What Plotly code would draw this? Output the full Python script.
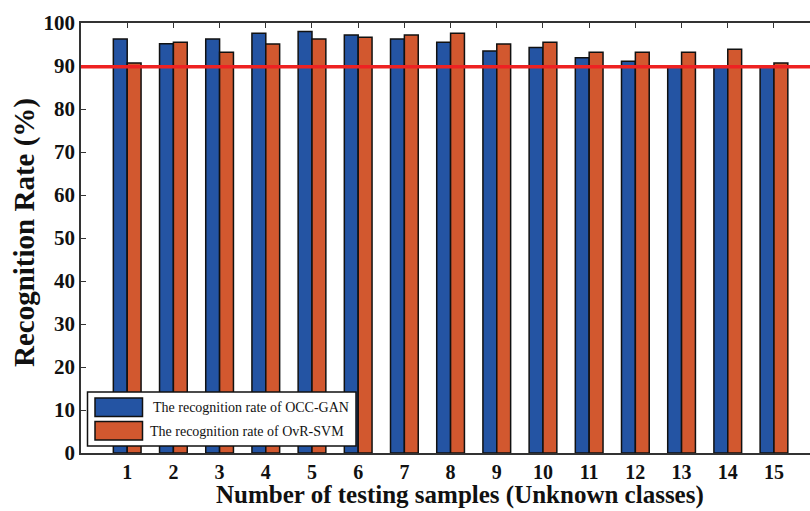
import plotly.graph_objects as go

# Recognition rates (%) for each number of unknown testing samples
samples = list(range(1, 16))
occ_gan = [96.3, 95.2, 96.3, 97.6, 98.0, 97.2, 96.3, 95.5, 93.5, 94.3, 91.9, 91.1, 90.0, 90.0, 90.0]
ovr_svm = [90.7, 95.5, 93.2, 95.1, 96.3, 96.7, 97.2, 97.6, 95.1, 95.5, 93.2, 93.2, 93.2, 93.9, 90.7]
threshold = 89.8
y_ticks = list(range(0, 101, 10))

series_names = ["The recognition rate of OCC-GAN", "The recognition rate of OvR-SVM"]
BLUE = "#2454A3"
ORANGE = "#D2582F"
FONT = "Liberation Serif"

W, H = 810, 511
ML, MR, MT, MB = 81, 0, 23, 58
PW, PH = W - ML - MR, H - MT - MB


def px(x):
    return (x - ML) / PW


def py(y):
    return (H - MB - y) / PH


fig = go.Figure()
fig.add_trace(go.Bar(x=samples, y=occ_gan, name=series_names[0], marker=dict(color=BLUE, line=dict(color="#111", width=1.5))))
fig.add_trace(go.Bar(x=samples, y=ovr_svm, name=series_names[1], marker=dict(color=ORANGE, line=dict(color="#111", width=1.5))))

shapes = [
    # threshold line
    dict(type="line", xref="paper", yref="y", x0=0, x1=1, y0=threshold, y1=threshold,
         line=dict(color="#EE2222", width=3.5), layer="above"),
    # legend frame
    dict(type="rect", xref="paper", yref="paper", x0=px(87.5), x1=px(356), y0=py(392), y1=py(446),
         fillcolor="white", line=dict(color="#111", width=1.5), layer="above"),
    dict(type="rect", xref="paper", yref="paper", x0=px(95), x1=px(142.5), y0=py(398), y1=py(416.5),
         fillcolor=BLUE, line=dict(color="#111", width=1.5), layer="above"),
    dict(type="rect", xref="paper", yref="paper", x0=px(95), x1=px(142.5), y0=py(421.5), y1=py(440),
         fillcolor=ORANGE, line=dict(color="#111", width=1.5), layer="above"),
]

annotations = [
    dict(text=series_names[0], xref="paper", yref="paper", x=px(150.5), y=py(407.5), xanchor="left", yanchor="middle",
         showarrow=False, font=dict(family=FONT, size=14, color="#111")),
    dict(text=series_names[1], xref="paper", yref="paper", x=px(148), y=py(431.5), xanchor="left", yanchor="middle",
         showarrow=False, font=dict(family=FONT, size=14, color="#111")),
    dict(text="<b>Recognition Rate (%)</b>", xref="paper", yref="paper", x=px(24), y=py(233), textangle=-90,
         xanchor="center", yanchor="middle", showarrow=False, font=dict(family=FONT, size=29, color="#111")),
    dict(text="<b>Number of testing samples (Unknown classes)</b>", xref="paper", yref="paper", x=px(460), y=py(495),
         xanchor="center", yanchor="middle", showarrow=False, font=dict(family=FONT, size=25, color="#111")),
]

fig.update_layout(
    width=W, height=H,
    margin=dict(l=ML, r=MR, t=MT, b=MB, autoexpand=False),
    paper_bgcolor="white", plot_bgcolor="white",
    barmode="group", bargap=0.4, bargroupgap=0,
    showlegend=False,
    shapes=shapes, annotations=annotations,
    font=dict(family=FONT, color="#111"),
)
fig.update_xaxes(
    range=[0, 15.78], tickmode="array", tickvals=samples, ticktext=[f"<b>{s}</b>" for s in samples],
    tickfont=dict(family=FONT, size=20, color="#111"),
    showgrid=False, zeroline=False, showline=True, linecolor="#333", linewidth=1.5, mirror="ticks",
    ticks="inside", ticklen=5, tickcolor="#333", tickwidth=1.2, layer="below traces",
)
fig.update_yaxes(
    range=[0, 100], tickmode="array", tickvals=y_ticks, ticktext=[f"<b>{v}</b>" for v in y_ticks],
    tickfont=dict(family=FONT, size=21, color="#111"),
    showgrid=False, zeroline=False, showline=True, linecolor="#333", linewidth=1.5,
    ticks="inside", ticklen=5, tickcolor="#333", tickwidth=1.2,
)

fig.write_html("out.html")
